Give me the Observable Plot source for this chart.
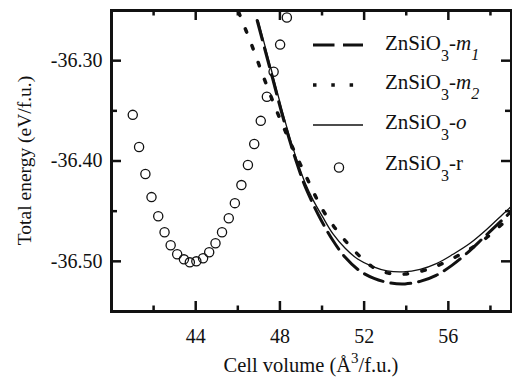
<!DOCTYPE html>
<html><head><meta charset="utf-8">
<script src="https://cdn.jsdelivr.net/npm/d3@7"></script>
<script src="https://cdn.jsdelivr.net/npm/@observablehq/plot@0.6"></script>
<style>
body{margin:0;background:#fff;}
#chart{width:512px;height:381px;}
#chart svg, #chart svg text, #chart svg tspan{font-family:"Liberation Serif","Times New Roman",Times,"DejaVu Serif",serif,"Liberation Sans",sans-serif !important;}
</style></head><body><div id="chart"></div>
<script>
// ZnSiO3-r (circles)
const rX = [41.01,41.31,41.61,41.90,42.22,42.52,42.81,43.12,43.44,43.72,44.03,44.35,44.64,44.94,45.25,45.57,45.86,46.17,46.48,46.78,47.09,47.38,47.70,48.01,48.33];
const rY = [-36.354,-36.386,-36.413,-36.436,-36.455,-36.471,-36.484,-36.493,-36.498,-36.501,-36.500,-36.497,-36.491,-36.482,-36.471,-36.457,-36.442,-36.424,-36.404,-36.383,-36.360,-36.336,-36.311,-36.284,-36.257];
// ZnSiO3-o (solid)
const oX = [46.97,47.35,47.73,48.11,48.49,48.82,49.20,49.58,50.01,50.53,51.10,51.71,52.38,53.09,53.85,54.66,55.46,56.22,57.03,57.83,58.59,59.0];
const oY = [-36.260,-36.290,-36.320,-36.350,-36.378,-36.400,-36.422,-36.439,-36.455,-36.473,-36.487,-36.498,-36.505,-36.5095,-36.5105,-36.508,-36.502,-36.493,-36.482,-36.468,-36.453,-36.445];
// ZnSiO3-m1 (dashed)
const m1X = [46.92,47.30,47.68,48.06,48.44,48.77,49.15,49.53,49.96,50.48,51.10,51.76,52.47,53.23,53.94,54.66,55.42,56.17,56.93,57.69,58.45,59.0];
const m1Y = [-36.260,-36.290,-36.320,-36.350,-36.378,-36.400,-36.423,-36.441,-36.459,-36.478,-36.496,-36.509,-36.517,-36.5215,-36.5225,-36.520,-36.514,-36.504,-36.491,-36.476,-36.461,-36.450];
// ZnSiO3-m2 (dotted)
const m2X = [46.04,46.64,47.27,47.91,48.57,49.31,50.07,51.10,52.36,53.15,53.94,54.81,55.60,56.40,57.11,57.90,58.53,59.0];
const m2Y = [-36.2517,-36.2833,-36.319,-36.3533,-36.385,-36.4183,-36.450,-36.4793,-36.505,-36.5117,-36.5127,-36.5093,-36.5033,-36.495,-36.4867,-36.475,-36.4633,-36.455];

const xMajor = [44,48,52,56];
const xMinor = [42,46,50,54,58];
const yMajor = [-36.30,-36.40,-36.50];
const yMinor = [-36.35,-36.45];

const W=512,H=381,mL=111,mR=1,mT=10,mB=70;
const pw=W-mL-mR, ph=H-mT-mB;
const INK="#111";

const pts=(xs,ys)=>xs.map((x,i)=>({x,y:ys[i]}));

const plot = Plot.plot({
  width:W,height:H,marginLeft:mL,marginRight:mR,marginTop:mT,marginBottom:mB,
  style:{fontSize:"20px",color:INK,background:"white",overflow:"visible"},
  x:{domain:[40,59],label:null},
  y:{domain:[-36.55,-36.25],label:null},
  marks:[
    Plot.line(pts(oX,oY),{x:"x",y:"y",curve:"catmull-rom",stroke:INK,strokeWidth:1.3,clip:true}),
    Plot.line(pts(m1X,m1Y),{x:"x",y:"y",curve:"catmull-rom",stroke:INK,strokeWidth:3,strokeDasharray:"20 8",clip:true}),
    Plot.line(pts(m2X,m2Y),{x:"x",y:"y",curve:"catmull-rom",stroke:INK,strokeWidth:3.5,strokeDasharray:"3.5 14.5",clip:true}),
    Plot.dot(pts(rX,rY),{x:"x",y:"y",r:4.6,stroke:INK,strokeWidth:1.3,fill:"none",clip:true}),
    Plot.frame({stroke:INK,strokeWidth:3}),
    Plot.ruleX(xMajor,{insetTop:ph-10,stroke:INK,strokeWidth:2.5}),
    Plot.ruleX(xMinor,{insetTop:ph-5.5,stroke:INK,strokeWidth:2.5}),
    Plot.ruleX(xMajor,{insetBottom:ph-10,stroke:INK,strokeWidth:2.5}),
    Plot.ruleX(xMinor,{insetBottom:ph-5.5,stroke:INK,strokeWidth:2.5}),
    Plot.ruleY(yMajor,{insetRight:pw-10,stroke:INK,strokeWidth:2.5}),
    Plot.ruleY(yMinor,{insetRight:pw-6,stroke:INK,strokeWidth:2.5}),
    Plot.ruleY(yMajor,{insetLeft:pw-10,stroke:INK,strokeWidth:2.5}),
    Plot.ruleY(yMinor,{insetLeft:pw-6,stroke:INK,strokeWidth:2.5}),
    Plot.axisX(xMajor,{tickSize:0,tickPadding:17,label:null,fontSize:20}),
    Plot.axisY(yMajor,{tickSize:0,tickPadding:9,label:null,fontSize:20,tickFormat:d=>d.toFixed(2)})
  ]
});

const svg = d3.select(plot);
// axis titles
svg.append("text").attr("font-size",19.5).attr("fill",INK)
  .attr("text-anchor","middle").attr("transform",`translate(31,${mT+ph/2}) rotate(-90)`)
  .text("Total energy (eV/f.u.)");
const xt = svg.append("text").attr("font-size",20.5).attr("fill",INK)
  .attr("text-anchor","middle").attr("x",mL+pw/2).attr("y",372);
xt.append("tspan").text("Cell volume (Å");
xt.append("tspan").attr("font-size",15).attr("dy",-9).text("3");
xt.append("tspan").attr("dy",9).text("/f.u.)");

// legend
const legendSuffix = [["m","1"],["m","2"],["o",null],["r",null]];
const legendItalic = [true,true,true,false];
const lg = svg.append("g").attr("font-size",21).attr("fill",INK).attr("text-anchor","start");
const rowBase = [50,89,129,170];
legendSuffix.forEach((s,i)=>{
  const cy = rowBase[i]-5;
  if(i===0) lg.append("line").attr("x1",313).attr("x2",363).attr("y1",cy).attr("y2",cy).attr("stroke",INK).attr("stroke-width",3).attr("stroke-dasharray","21.5 8.5");
  if(i===1) lg.append("line").attr("x1",313).attr("x2",363).attr("y1",cy+1).attr("y2",cy+1).attr("stroke",INK).attr("stroke-width",3.5).attr("stroke-dasharray","3.5 14.8");
  if(i===2) lg.append("line").attr("x1",313).attr("x2",363).attr("y1",cy+1).attr("y2",cy+1).attr("stroke",INK).attr("stroke-width",1.3);
  if(i===3) lg.append("circle").attr("cx",339).attr("cy",cy+2.5).attr("r",4.6).attr("fill","none").attr("stroke",INK).attr("stroke-width",1.3);
  const t = lg.append("text").attr("x",385).attr("y",rowBase[i]);
  t.append("tspan").text("ZnSiO");
  t.append("tspan").attr("font-size",16).attr("dy",11).text("3");
  t.append("tspan").attr("dy",-11).text("-");
  const sfx = t.append("tspan").text(s[0]);
  if(legendItalic[i]) sfx.attr("font-style","italic");
  if(s[1]) t.append("tspan").attr("font-size",16).attr("font-style","italic").attr("dy",10).text(s[1]);
});

document.getElementById("chart").appendChild(plot);
</script>
</body></html>
